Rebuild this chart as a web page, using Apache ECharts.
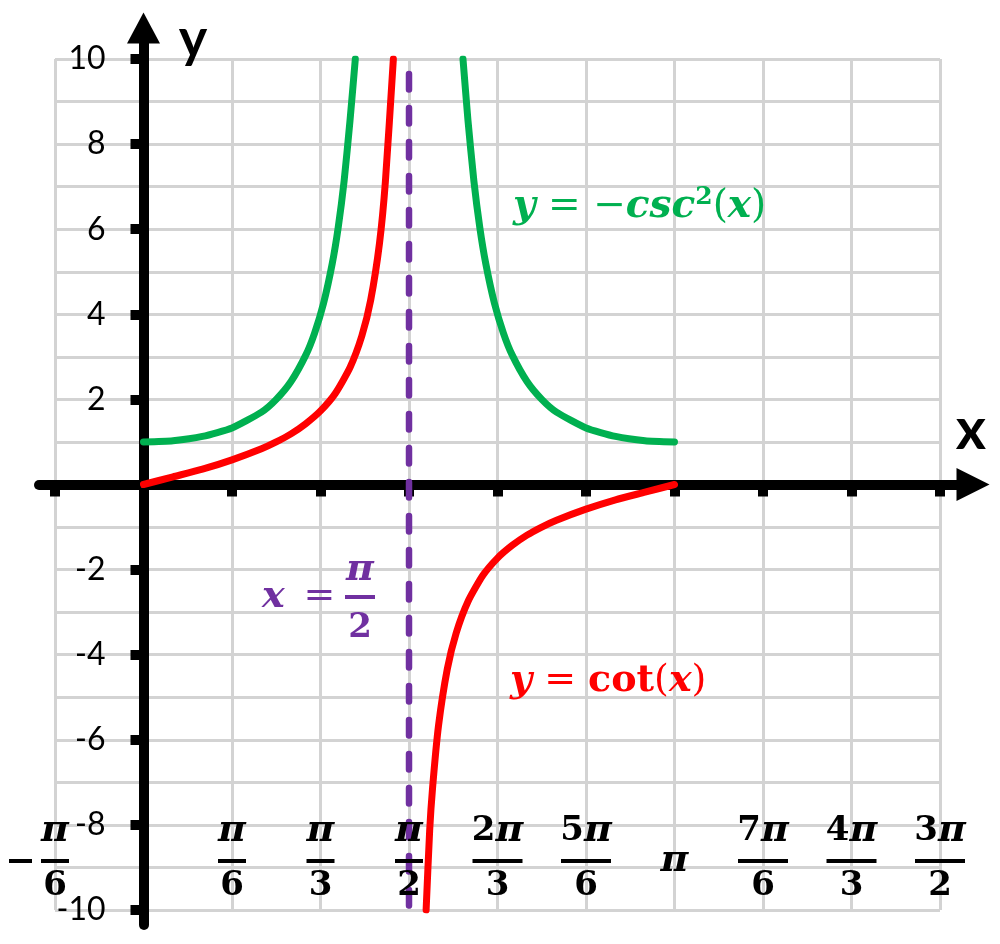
<!DOCTYPE html>
<html><head><meta charset="utf-8">
<script src="https://cdn.jsdelivr.net/npm/echarts@6/dist/echarts.min.js"></script>
<style>html,body{margin:0;padding:0;background:#fff}#c{width:1000px;height:944px}</style>
</head><body><div id="c"></div>
<script>
// ---- data (x in degrees, y values) ----
const xTickValues = [-30, 30, 60, 90, 120, 150, 180, 210, 240, 270];
const xTickNumer  = ['π', 'π', 'π', 'π', '2π', '5π', 'π', '7π', '4π', '3π'];
const xTickDenom  = ['6', '6', '3', '2', '3', '6', '', '6', '3', '2'];
const xTickSign   = ['−', '', '', '', '', '', '', '', '', ''];

const greenLeftX  = [0, 10, 20, 30, 40, 45, 50, 55, 58, 61, 64, 66, 68, 70, 71.8];
const greenLeftY  = [1.0, 1.03, 1.13, 1.33, 1.7, 2.0, 2.42, 3.04, 3.56, 4.25, 5.2, 6.04, 7.13, 8.55, 10];
const greenRightX = [108.3, 110, 112, 114, 116, 119, 122, 125, 130, 135, 140, 150, 160, 170, 180];
const greenRightY = [10, 8.55, 7.13, 6.04, 5.2, 4.25, 3.56, 3.04, 2.42, 2.0, 1.7, 1.33, 1.13, 1.03, 1.0];

const redLeftX  = [0, 10, 20, 30, 40, 45, 50, 55, 60, 65, 70, 74, 77, 80, 82, 84.7];
const redLeftY  = [0, 0.18, 0.36, 0.58, 0.84, 1.0, 1.19, 1.43, 1.73, 2.14, 2.75, 3.49, 4.33, 5.67, 7.12, 10];
const redRightX = [95.8, 97, 98, 100, 103, 106, 110, 115, 120, 125, 130, 135, 140, 150, 160, 170, 180];
const redRightY = [-10, -8.14, -7.12, -5.67, -4.33, -3.49, -2.75, -2.14, -1.73, -1.43, -1.19, -1.0, -0.84, -0.58, -0.36, -0.18, 0];

const asymptoteX = [90, 90];
const asymptoteY = [10, -10];

const yTickValues = [-10, -8, -6, -4, -2, 2, 4, 6, 8, 10];

// ---- helpers ----
const pairs = (xs, ys) => xs.map((x, i) => [x, ys[i]]);
const SERIF = "'DejaVu Serif', 'Liberation Serif', serif";
const SANS = "Lato, 'Noto Sans', sans-serif";
const GREEN = '#00b050', RED = '#ff0000', PURPLE = '#7030a0', GRID = '#d3d3d3';
const L1 = 54, L3 = 44;

function xLabel(v) {
  const i = xTickValues.indexOf(v);
  if (i < 0) return '';
  const num = xTickNumer[i], den = xTickDenom[i], sign = xTickSign[i];
  const digits = num.replace('π', '');
  if (!den) return '{e1|}\n{pc|π}\n{e3|}';
  const top = (digits ? '{n|' + digits + '}' : '') + '{p|π}';
  const bar = digits ? 'bw' : 'bn';
  const mid = sign ? '{negbar|}{gap|}{' + bar + '|}{negsp|}' : '{' + bar + '|}';
  return top + '\n' + mid + '\n{d|' + den + '}';
}

const chart = echarts.init(document.getElementById('c'), null, {renderer: 'canvas'});

const option = {
  backgroundColor: '#fff',
  animation: false,
  grid: [
    {left: 55, right: 60, top: 59, bottom: 34, outerBoundsMode: 'none', containLabel: false},
    {left: 39, right: 27, top: 28, bottom: 19, outerBoundsMode: 'none', containLabel: false}
  ],
  xAxis: [
    { // 0: axis line through zero with ticks
      gridIndex: 0, type: 'value', min: -30, max: 270, interval: 30, z: 1,
      axisLine: {show: true, onZero: true, lineStyle: {color: '#000', width: 10}},
      axisTick: {show: true, length: 12, lineStyle: {color: '#000', width: 10}},
      axisLabel: {show: false}, splitLine: {show: false}
    },
    { // 1: vertical grid lines
      gridIndex: 0, type: 'value', min: -30, max: 270, interval: 30, position: 'bottom', z: 0,
      axisLine: {show: false, onZero: false}, axisTick: {show: false}, axisLabel: {show: false},
      splitLine: {show: true, lineStyle: {color: GRID, width: 3}}
    },
    { // 2: fraction tick labels at the bottom
      gridIndex: 0, type: 'value', min: -30, max: 270, interval: 30, position: 'bottom', z: 5,
      axisLine: {show: false, onZero: false}, axisTick: {show: false}, splitLine: {show: false},
      axisLabel: {
        show: true, inside: true, margin: 2, showMinLabel: true, showMaxLabel: true,
        formatter: xLabel,
        rich: {
          n:  {fontFamily: SERIF, fontWeight: 'bold', fontSize: 34, color: '#000', lineHeight: L1},
          p:  {fontFamily: SERIF, fontWeight: 'bold', fontStyle: 'italic', fontSize: 38, color: '#000', lineHeight: L1},
          pc: {fontFamily: SERIF, fontWeight: 'bold', fontStyle: 'italic', fontSize: 38, color: '#000', lineHeight: 6},
          d:  {fontFamily: SERIF, fontWeight: 'bold', fontSize: 34, color: '#000', lineHeight: L3},
          bn: {width: 28, height: 4, backgroundColor: '#000', lineHeight: 6},
          bw: {width: 50, height: 4, backgroundColor: '#000', lineHeight: 6},
          negbar: {width: 23, height: 4, backgroundColor: '#000', lineHeight: 6},
          gap: {width: 9, height: 4, lineHeight: 6},
          negsp: {width: 32, height: 4, lineHeight: 6},
          e1: {height: L1, lineHeight: L1},
          e3: {height: L3, lineHeight: L3}
        }
      }
    },
    { // 3: long black x axis with arrow
      gridIndex: 1, type: 'value', min: -104.5, max: 829.5, z: 1,
      axisLine: {show: true, onZero: true, symbol: ['none', 'triangle'], symbolSize: [33, 33],
                 lineStyle: {color: '#000', width: 10}},
      axisTick: {show: false}, axisLabel: {show: false}, splitLine: {show: false}
    }
  ],
  yAxis: [
    { // 0: y axis line with ticks and labels, shifted onto x = 0
      gridIndex: 0, type: 'value', min: -10, max: 10, interval: 2, z: 1, position: 'left', offset: -88.5,
      axisLine: {show: true, onZero: false, lineStyle: {color: '#000', width: 10}},
      axisTick: {show: true, length: 13, lineStyle: {color: '#000', width: 10}},
      axisLabel: {
        show: true, margin: 38, showMinLabel: true, showMaxLabel: true,
        fontFamily: SANS, fontSize: 32, color: '#000',
        formatter: v => (yTickValues.indexOf(v) >= 0 ? String(v) : '')
      },
      splitLine: {show: false}
    },
    { // 1: horizontal grid lines every unit
      gridIndex: 0, type: 'value', min: -10, max: 10, interval: 2, z: 0, position: 'right',
      axisLine: {show: false, onZero: false}, axisTick: {show: false}, axisLabel: {show: false},
      splitLine: {show: true, lineStyle: {color: GRID, width: 3}},
      minorTick: {show: false, splitNumber: 2},
      minorSplitLine: {show: true, lineStyle: {color: GRID, width: 3}}
    },
    { // 2: long black y axis with arrow
      gridIndex: 1, type: 'value', min: -440.5, max: 456.5, z: 1,
      axisLine: {show: true, onZero: true, symbol: ['none', 'triangle'], symbolSize: [33, 31],
                 lineStyle: {color: '#000', width: 10}},
      axisTick: {show: false}, axisLabel: {show: false}, splitLine: {show: false}
    }
  ],
  series: [
    {type: 'line', xAxisIndex: 0, yAxisIndex: 0, data: pairs(greenLeftX, greenLeftY), showSymbol: false, smooth: 0.2,
     lineStyle: {color: GREEN, width: 7, cap: 'round', join: 'round'}, z: 3},
    {type: 'line', xAxisIndex: 0, yAxisIndex: 0, data: pairs(greenRightX, greenRightY), showSymbol: false, smooth: 0.2,
     lineStyle: {color: GREEN, width: 7, cap: 'round', join: 'round'}, z: 3},
    {type: 'line', xAxisIndex: 0, yAxisIndex: 0, data: pairs(redLeftX, redLeftY), showSymbol: false, smooth: 0.2,
     lineStyle: {color: RED, width: 7, cap: 'round', join: 'round'}, z: 3},
    {type: 'line', xAxisIndex: 0, yAxisIndex: 0, data: pairs(redRightX, redRightY), showSymbol: false, smooth: 0.2,
     lineStyle: {color: RED, width: 7, cap: 'round', join: 'round'}, z: 3},
    {type: 'line', xAxisIndex: 0, yAxisIndex: 0, data: pairs(asymptoteX, asymptoteY), showSymbol: false,
     lineStyle: {color: PURPLE, width: 6.5, type: [15.5, 18.5], dashOffset: 19, cap: 'round'}, z: 3}
  ],
  graphic: [
    {type: 'text', x: 193, y: 40, z: 10, style: {text: 'y', font: 'bold 54px ' + SANS, fill: '#000', align: 'center', verticalAlign: 'middle'}},
    {type: 'text', x: 971, y: 430, z: 10, style: {text: 'x', font: 'bold 58px ' + SANS, fill: '#000', align: 'center', verticalAlign: 'middle'}},
    {type: 'text', x: 513, y: 207, z: 10, style: {
      text: '{i|y}{n| = −}{i|csc}{s|2}{n|(}{i|x}{n|)}', fill: GREEN, align: 'left', verticalAlign: 'middle',
      rich: {
        i: {fontFamily: SERIF, fontWeight: 'bold', fontStyle: 'italic', fontSize: 39, lineHeight: 44, verticalAlign: 'middle'},
        n: {fontFamily: SERIF, fontSize: 39, lineHeight: 44, verticalAlign: 'middle'},
        s: {fontFamily: SERIF, fontWeight: 'bold', fontSize: 25, lineHeight: 44, verticalAlign: 'top'}
      }
    }},
    {type: 'text', x: 510, y: 681, z: 10, style: {
      text: '{i|y}{n| = }{b|cot}{n|(}{i|x}{n|)}', fill: RED, align: 'left', verticalAlign: 'middle',
      rich: {
        i: {fontFamily: SERIF, fontWeight: 'bold', fontStyle: 'italic', fontSize: 38, lineHeight: 44, verticalAlign: 'middle'},
        b: {fontFamily: SERIF, fontWeight: 'bold', fontSize: 38, lineHeight: 44, verticalAlign: 'middle'},
        n: {fontFamily: SERIF, fontSize: 38, lineHeight: 44, verticalAlign: 'middle'}
      }
    }},
    {type: 'text', x: 262, y: 546, z: 10, style: {
      text: '{sp|}{p|π}\n{x|x}{eq|=}{bar|}\n{sp|}{d|2}', fill: PURPLE, align: 'left', verticalAlign: 'top',
      rich: {
        sp: {width: 83, lineHeight: 48},
        p: {fontFamily: SERIF, fontWeight: 'bold', fontStyle: 'italic', fontSize: 38, width: 30, align: 'center', lineHeight: 48},
        x: {fontFamily: SERIF, fontWeight: 'bold', fontStyle: 'italic', fontSize: 38, width: 32, align: 'left', lineHeight: 6},
        eq: {fontFamily: SERIF, fontSize: 38, width: 51, align: 'center', lineHeight: 6},
        bar: {width: 30, height: 4, backgroundColor: PURPLE, lineHeight: 6},
        d: {fontFamily: SERIF, fontWeight: 'bold', fontSize: 34, width: 30, align: 'center', lineHeight: 56}
      }
    }}
  ]
};
chart.setOption(option);
</script></body></html>
